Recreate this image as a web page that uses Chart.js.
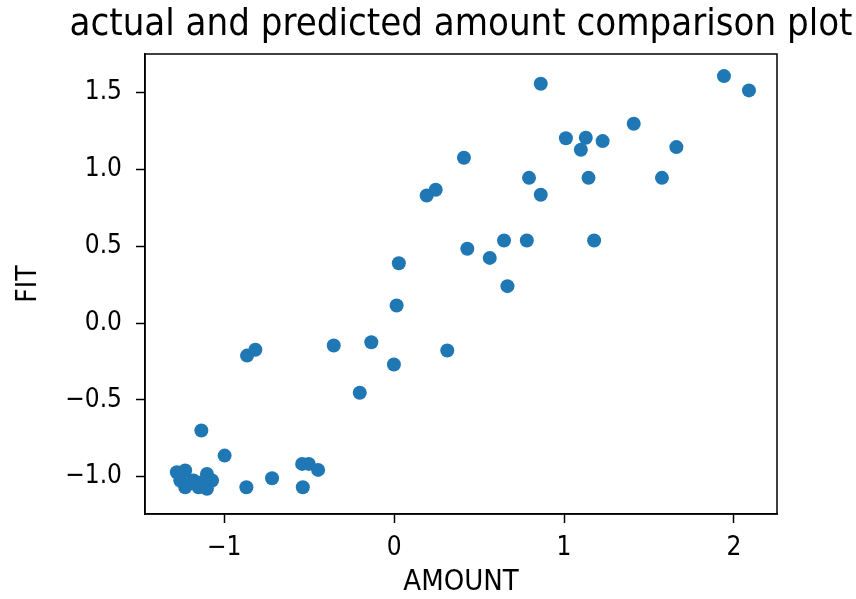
<!DOCTYPE html>
<html>
<head>
<meta charset="utf-8">
<script src="https://cdn.jsdelivr.net/npm/chart.js@4.4.1/dist/chart.umd.min.js"></script>
<style>
  html, body { margin: 0; padding: 0; background: #fff; }
  #wrap { width: 856px; height: 599px; }
</style>
</head>
<body>
<div id="wrap"><canvas id="chart"></canvas></div>
<script>
// Data
const amount = [
  0.863, 1.941, 2.088, 1.410, 1.011, 1.128, 1.099, 1.227, 1.661, 0.411,
  0.794, 1.144, 1.576, 0.863, 0.192, 0.245, 0.647, 0.781, 1.177, 0.431,
  0.563, 0.667, 0.028, 0.015, -0.355, -0.134, 0.313, -0.001, -0.202, -0.865,
  -0.816, -1.134, -0.997, -0.541, -0.502, -0.447, -0.718, -0.537, -0.869,
  -1.278, -1.229, -1.258, -1.209, -1.180, -1.130, -1.101, -1.071, -1.101, -1.150, -1.229,
];
const fit = [
  1.557, 1.607, 1.514, 1.297, 1.203, 1.206, 1.128, 1.184, 1.145, 1.076,
  0.945, 0.945, 0.945, 0.835, 0.830, 0.867, 0.537, 0.537, 0.537, 0.483,
  0.424, 0.240, 0.389, 0.114, -0.146, -0.125, -0.179, -0.270, -0.454, -0.212,
  -0.174, -0.700, -0.863, -0.917, -0.917, -0.956, -1.010, -1.069, -1.069,
  -0.971, -0.960, -1.025, -1.047, -1.025, -1.036, -0.982, -1.025, -1.079, -1.069, -1.069,
];
const xTicks = [-1, 0, 1, 2];
const yTicks = [-1.0, -0.5, 0.0, 0.5, 1.0, 1.5];
const titleText = 'actual and predicted amount comparison plot';

const FONT = "'DejaVu Sans Condensed', 'DejaVu Sans'";

const minus = (s) => s.replace('-', '\u2212');

// spines on all four sides + title centred over the axes (like matplotlib)
const frame = {
  id: 'frame',
  afterDraw(chart) {
    const { ctx, chartArea } = chart;
    ctx.save();
    ctx.strokeStyle = '#000';
    ctx.lineWidth = 1.5;
    ctx.strokeRect(chartArea.left, chartArea.top, chartArea.right - chartArea.left, chartArea.bottom - chartArea.top);

    ctx.fillStyle = '#000';
    ctx.font = "38px " + FONT;
    ctx.textAlign = 'center';
    ctx.textBaseline = 'alphabetic';
    ctx.fillText(titleText, (chartArea.left + chartArea.right) / 2, chartArea.top - 19);
    ctx.restore();
  },
};

const points = amount.map((a, i) => ({ x: a, y: fit[i] }));

const ctx = document.getElementById('chart').getContext('2d');
new Chart(ctx, {
  type: 'scatter',
  data: {
    datasets: [
      {
        data: points,
        backgroundColor: '#1f77b4',
        borderWidth: 0,
        pointRadius: 7,
      },
    ],
  },
  options: {
    responsive: true,
    maintainAspectRatio: false,
    animation: false,
    layout: { padding: { left: 0, right: 79, top: 54, bottom: 0 } },
    plugins: {
      legend: { display: false },
      tooltip: { enabled: false },
      title: { display: false },
    },
    scales: {
      x: {
        type: 'linear',
        min: -1.4655,
        max: 2.253,
        afterBuildTicks: (scale) => { scale.ticks = xTicks.map((v) => ({ value: v })); },
        afterFit: (scale) => { scale.height = 85; },
        grid: { drawOnChartArea: false, drawTicks: true, tickLength: 9, tickWidth: 1.5, tickColor: '#000' },
        border: { display: true, color: '#000', width: 1.5 },
        ticks: {
          color: '#000',
          padding: 10,
          maxRotation: 0,
          font: { family: FONT, size: 26 },
          callback: (v) => minus(String(v)),
        },
        title: {
          display: true,
          text: 'AMOUNT',
          color: '#000',
          padding: -1,
          font: { family: FONT, size: 29 },
        },
      },
      y: {
        type: 'linear',
        min: -1.243,
        max: 1.751,
        afterBuildTicks: (scale) => { scale.ticks = yTicks.map((v) => ({ value: v })); },
        afterFit: (scale) => { scale.width = 145; },
        grid: { drawOnChartArea: false, drawTicks: true, tickLength: 9, tickWidth: 1.5, tickColor: '#000' },
        border: { display: true, color: '#000', width: 1.5 },
        ticks: {
          color: '#000',
          padding: 14,
          font: { family: FONT, size: 26 },
          callback: (v) => minus(v.toFixed(1)),
        },
        title: {
          display: true,
          text: 'FIT',
          color: '#000',
          padding: 12,
          font: { family: FONT, size: 28 },
        },
      },
    },
  },
  plugins: [frame],
});
</script>
</body>
</html>
